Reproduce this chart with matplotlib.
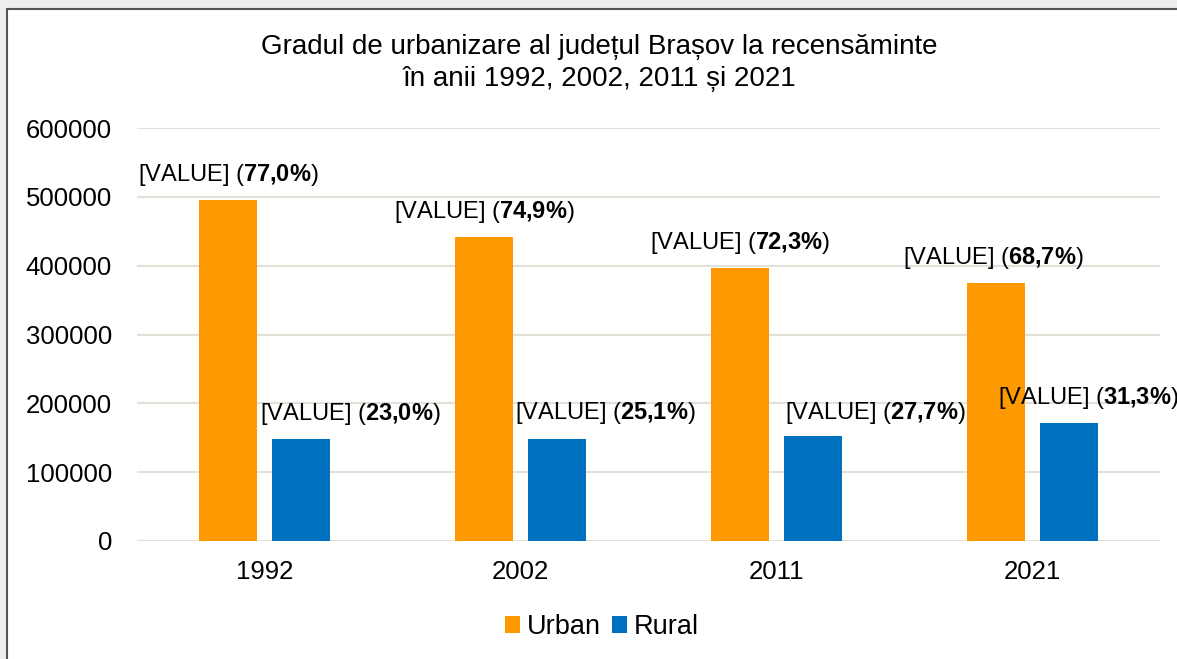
import matplotlib
matplotlib.use("Agg")
import matplotlib.pyplot as plt
from matplotlib.patches import Rectangle
import numpy as np

# --- Data ---
years = ["1992", "2002", "2011", "2021"]
urban = [494700, 441200, 397100, 375500]
rural = [147800, 147800, 152100, 171100]
urban_pct = ["77,0", "74,9", "72,3", "68,7"]
rural_pct = ["23,0", "25,1", "27,7", "31,3"]

title = "Gradul de urbanizare al județul Brașov la recensăminte\nîn anii 1992, 2002, 2011 și 2021"

# label placement (pixel offsets from bar centre, as in the source chart)
urban_dx = [0, 0, 0, -2]
rural_dx = [49, 48, 62, 20]
rural_dy = [25, 26, 23, 25]

plt.rcParams["font.family"] = ["Liberation Sans", "DejaVu Sans"]
plt.rcParams["mathtext.fontset"] = "custom"
plt.rcParams["mathtext.rm"] = "Liberation Sans"
plt.rcParams["mathtext.bf"] = "Liberation Sans:bold"

c_urban = "#FF9900"
c_rural = "#0070C0"
grid_c = "#E3E0D8"

fig = plt.figure(figsize=(11.77, 6.59), dpi=100, facecolor="#EEEEEE")
# white chart panel with dark border on left/top
fig.patches.append(Rectangle((7 / 1177, -0.1), 1.2, (659 - 9) / 659 + 0.1,
                             transform=fig.transFigure, facecolor="white",
                             edgecolor="#555555", linewidth=1.5, zorder=-1))

ax = fig.add_axes([137 / 1177, (659 - 541) / 659, 1023 / 1177, 413 / 659])
ax.set_facecolor("none")
ax.set_zorder(2)

x = np.arange(len(years))
off = 0.143
w = 0.227
ax.bar(x - off, urban, w, color=c_urban, label="Urban", zorder=3)
ax.bar(x + off, rural, w, color=c_rural, label="Rural", zorder=3)

ax.set_xlim(-0.5, 3.5)
ax.set_ylim(0, 600000)
ax.set_yticks(range(0, 600001, 100000))
ax.set_xticks(x)
ax.set_xticklabels(years)
ax.grid(axis="y", color=grid_c, linewidth=1.5, zorder=0)
for s in ax.spines.values():
    s.set_visible(False)
ax.tick_params(axis="both", length=0, labelsize=18.5, colors="#000000")
ax.tick_params(axis="y", pad=18)
ax.tick_params(axis="x", pad=14)

px = 0.72  # points per pixel at 100 dpi
for i in range(len(years)):
    ax.annotate(r"[VALUE] ($\mathbf{%s\%%}$)" % urban_pct[i].replace(",", "{,}"),
                xy=(x[i] - off, urban[i]), xytext=(urban_dx[i] * px, 25 * px),
                textcoords="offset points", ha="center", va="center",
                fontsize=17, annotation_clip=False, zorder=4)
    ax.annotate(r"[VALUE] ($\mathbf{%s\%%}$)" % rural_pct[i].replace(",", "{,}"),
                xy=(x[i] + off, rural[i]), xytext=(rural_dx[i] * px, rural_dy[i] * px),
                textcoords="offset points", ha="center", va="center",
                fontsize=17, annotation_clip=False, zorder=4)

fig.text(599 / 1177, 1 - 63 / 659, title, ha="center", va="center",
         fontsize=20, linespacing=1.25)

fig.legend(loc="center", bbox_to_anchor=(602 / 1177, 1 - 627 / 659),
           ncol=2, frameon=False, fontsize=19.5, handlelength=0.55,
           handleheight=0.55, handletextpad=0.25, columnspacing=0.4)

fig.savefig("out.png", dpi=100, facecolor=fig.get_facecolor())
